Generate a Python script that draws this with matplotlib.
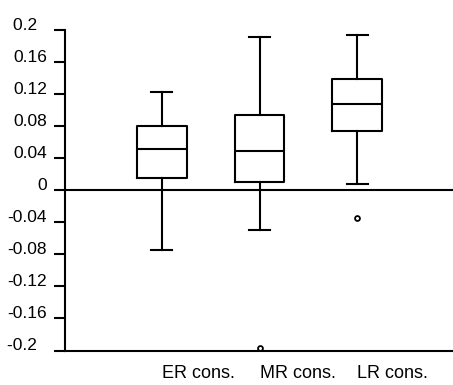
import matplotlib.pyplot as plt

# box stats
groups = ['ER cons.', 'MR cons.', 'LR cons.']
whislo = [-0.075, -0.050, 0.008]
q1 = [0.015, 0.010, 0.074]
med = [0.052, 0.049, 0.108]
q3 = [0.080, 0.094, 0.139]
whishi = [0.123, 0.191, 0.194]
fliers = [[], [-0.197], [-0.035]]
yticks = [-0.2, -0.16, -0.12, -0.08, -0.04, 0, 0.04, 0.08, 0.12, 0.16, 0.2]
# "0.2" labels sit flush with the others on the left in the original, hence the figure space
ylabels = ['-0.2\u2007', '-0.16', '-0.12', '-0.08', '-0.04', '0', '0.04', '0.08', '0.12', '0.16', '0.2\u2007']

plt.rcParams['font.family'] = ['Liberation Sans', 'DejaVu Sans']

stats = []
for i in range(len(groups)):
    stats.append({'whislo': whislo[i], 'q1': q1[i], 'med': med[i], 'q3': q3[i],
                  'whishi': whishi[i], 'fliers': fliers[i], 'label': groups[i]})

fig = plt.figure(figsize=(4.53, 3.85), dpi=100)
ax = fig.add_axes([65 / 453, 34.5 / 385, 388 / 453, 320.5 / 385])

pos = [1, 2, 3]
ax.bxp(stats, positions=pos, widths=0.51, capwidths=0.22, showfliers=True,
       boxprops=dict(color='black', linewidth=1.5),
       medianprops=dict(color='black', linewidth=1.5),
       whiskerprops=dict(color='black', linewidth=1.5),
       capprops=dict(color='black', linewidth=1.5),
       flierprops=dict(marker='o', markersize=3.5, markerfacecolor='white',
                       markeredgecolor='black', markeredgewidth=1.3))

ax.axhline(0, color='black', linewidth=1.5)
ax.set_xlim(0.011, 3.978)
ax.set_ylim(-0.2, 0.2)
ax.set_yticks(yticks)
ax.set_yticklabels(ylabels, fontsize=12.5, va='baseline')
ax.tick_params(axis='y', length=8, width=1.5, pad=5)

ax.set_xticks([])
for p, g in zip(pos, groups):
    ax.text(p, -0.229, g, ha='left', va='center', fontsize=13)

for s in ['top', 'right']:
    ax.spines[s].set_visible(False)
ax.spines['left'].set_linewidth(1.5)
ax.spines['bottom'].set_linewidth(1.5)

plt.savefig('out.png', dpi=100)
